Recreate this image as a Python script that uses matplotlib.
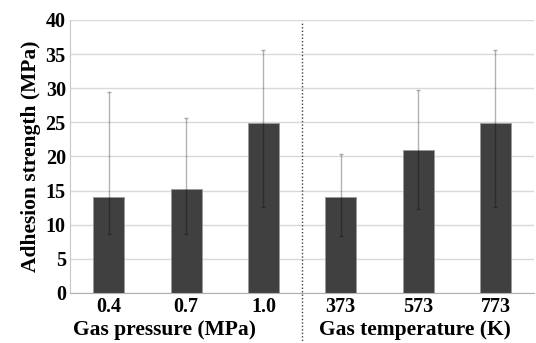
import matplotlib
matplotlib.use('Agg')

import numpy as np
from matplotlib import pyplot as plt
import matplotlib.transforms as mtransforms

# data
tick_labels = ['0.4', '0.7', '1.0', '373', '573', '773']
group_labels = ['Gas pressure (MPa)', 'Gas temperature (K)']
strength = [14.0, 15.2, 24.9, 14.0, 20.9, 24.9]
err_top = [29.5, 25.6, 35.6, 20.3, 29.8, 35.6]
err_bottom = [8.6, 8.6, 12.6, 8.3, 12.3, 12.6]


def main(output='out.png'):
    plt.rcParams['font.family'] = ['Liberation Serif', 'DejaVu Serif']
    plt.rcParams['font.weight'] = 'bold'

    fig = plt.figure(figsize=(5.36, 3.43), dpi=100)
    ax = fig.add_axes([0.1306, 0.1458, 0.866, 0.796])

    x = np.arange(len(strength))
    vals = np.array(strength)
    yerr = np.array([vals - np.array(err_bottom), np.array(err_top) - vals])

    ax.bar(x, vals, width=0.4, color='#404040', edgecolor='#9a9a9a', linewidth=0.6, zorder=2)
    ax.errorbar(x, vals, yerr=yerr, fmt='none', ecolor='black', alpha=0.3,
                elinewidth=1, capsize=1.5, capthick=1, zorder=3)

    ax.set_xlim(-0.5, 5.5)
    ax.set_ylim(0, 40)
    ax.set_yticks(np.arange(0, 41, 5))
    ax.set_xticks(x)
    ax.set_xticklabels(tick_labels)
    ax.tick_params(axis='both', length=0, labelsize=14.5)
    ax.tick_params(axis='y', pad=3)
    ax.tick_params(axis='x', pad=3)
    for lab in ax.get_xticklabels() + ax.get_yticklabels():
        lab.set_fontweight('bold')
    ax.yaxis.grid(True, color='#d9d9d9', linewidth=1, zorder=0)
    ax.set_axisbelow(True)

    for side in ['top', 'right']:
        ax.spines[side].set_visible(False)
    ax.spines['left'].set_color('#c8c8c8')
    ax.spines['bottom'].set_color('#b0b0b0')

    ax.set_ylabel('Adhesion strength (MPa)', fontsize=15.5, fontweight='bold', labelpad=3)

    # group labels under the tick labels
    trans = mtransforms.blended_transform_factory(ax.transData, ax.transAxes)
    ax.text(0.72, -0.10, group_labels[0], transform=trans, ha='center', va='top',
            fontsize=15.5, fontweight='bold')
    ax.text(3.96, -0.10, group_labels[1], transform=trans, ha='center', va='top',
            fontsize=15.5, fontweight='bold')

    # dotted separator between the two groups
    ax.plot([2.5, 2.5], [-0.19, 0.995], transform=trans, color='#404040',
            linestyle=(0, (1, 1.5)), linewidth=1, clip_on=False, zorder=4)

    fig.savefig(output, dpi=100)


if __name__ == '__main__':
    main()
